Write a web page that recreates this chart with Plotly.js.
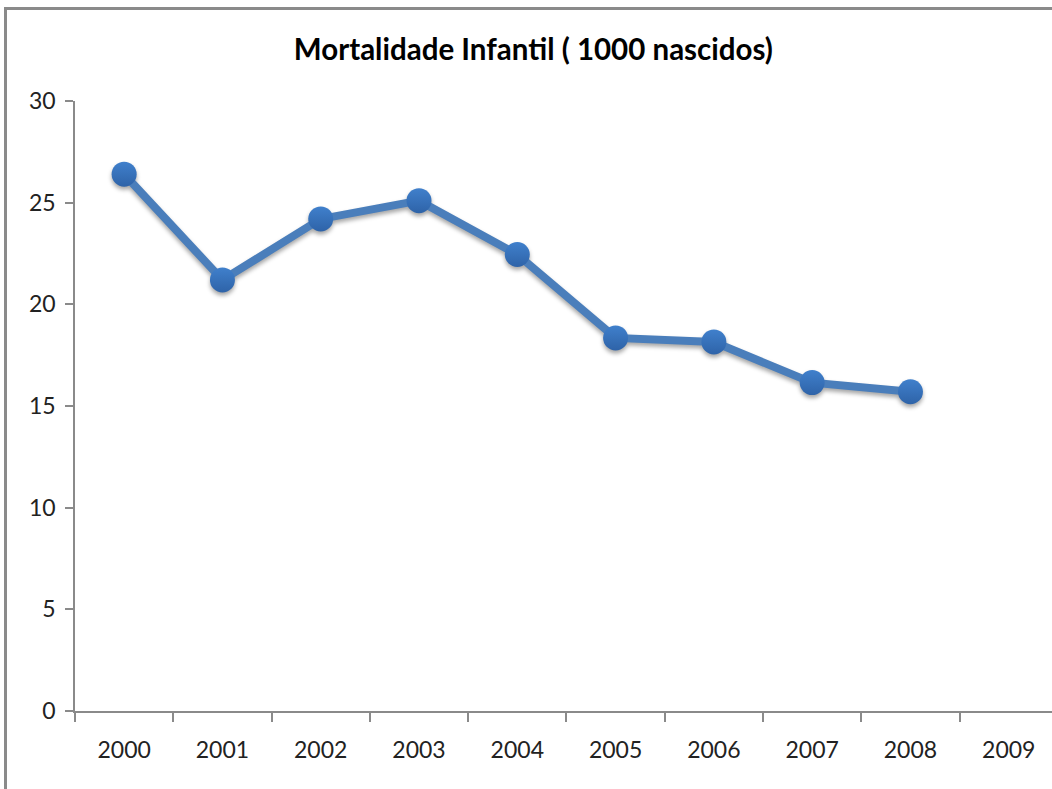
<!DOCTYPE html>
<html>
<head>
<meta charset="utf-8">
<script src="https://cdn.plot.ly/plotly-3.0.1.min.js"></script>
<style>
  html, body { margin: 0; padding: 0; background: #fff; overflow: hidden; }
  #wrap { position: relative; width: 1052px; height: 789px; overflow: hidden; }
  #frameTop { position: absolute; left: 4px; top: 7px; width: 1048px; height: 3px; background: #8a8a8a; pointer-events: none; z-index: 5; }
  #frameLeft { position: absolute; left: 4px; top: 7px; width: 3px; height: 782px; background: #8a8a8a; pointer-events: none; z-index: 5; }
  .scatterlayer .trace { filter: drop-shadow(0px 3px 2px rgba(0,0,0,0.35)); }
</style>
</head>
<body>
<div id="wrap">
  <div id="chart" style="width:1052px;height:789px;"></div>
  <div id="frameTop"></div>
  <div id="frameLeft"></div>
</div>
<script>
const years = ["2000","2001","2002","2003","2004","2005","2006","2007","2008","2009"];
const mortalidade = [26.4, 21.2, 24.2, 25.1, 22.45, 18.35, 18.15, 16.15, 15.7, null];
const chartTitle = "Mortalidade Infantil ( 1000 nascidos)";

const fontFam = "Lato, 'Open Sans', sans-serif";

const trace = {
  x: years,
  y: mortalidade,
  type: "scatter",
  mode: "lines+markers",
  line: { color: "#4a7ebb", width: 8 },
  marker: { size: 25, color: "#4080cc", line: { width: 0 },
            gradient: { type: "vertical", color: "#2e63a8" } },
  hoverinfo: "x+y",
  showlegend: false
};

const layout = {
  width: 1052,
  height: 789,
  margin: { l: 75, r: 0, t: 101, b: 78 },
  paper_bgcolor: "#ffffff",
  plot_bgcolor: "#ffffff",
  title: {
    text: "<b>" + chartTitle + "</b>",
    font: { family: fontFam, size: 29.5, color: "#000000" },
    x: 0.507, xanchor: "center",
    y: 0.937, yanchor: "middle"
  },
  xaxis: {
    type: "category",
    range: [-0.5, 9.44],
    showgrid: false,
    zeroline: false,
    showline: true,
    linecolor: "#8a8a8a",
    linewidth: 1.5,
    ticks: "outside",
    tickson: "boundaries",
    ticklen: 9,
    tickcolor: "#8a8a8a",
    tickwidth: 1.5,
    ticklabelstandoff: 18,
    tickfont: { family: fontFam, size: 23, color: "#222222" },
    fixedrange: true
  },
  yaxis: {
    range: [0, 30],
    dtick: 5,
    tick0: 0,
    showgrid: false,
    zeroline: false,
    showline: true,
    linecolor: "#8a8a8a",
    linewidth: 1.5,
    ticks: "outside",
    ticklen: 8,
    tickcolor: "#8a8a8a",
    tickwidth: 1.5,
    ticklabelstandoff: 5,
    tickfont: { family: fontFam, size: 23, color: "#222222" },
    fixedrange: true
  }
};

Plotly.newPlot("chart", [trace], layout, { displayModeBar: false });
</script>
</body>
</html>
